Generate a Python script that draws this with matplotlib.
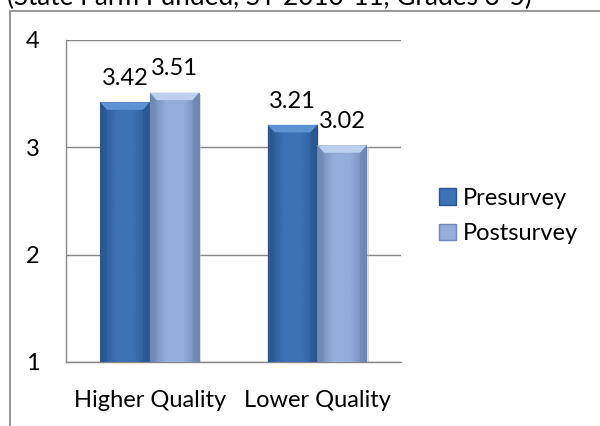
import numpy as np
import matplotlib
matplotlib.use("Agg")
import matplotlib.pyplot as plt
from matplotlib.patches import Polygon, Rectangle
from matplotlib.lines import Line2D
from matplotlib.colors import LinearSegmentedColormap

title = "(State Farm Funded, SY 2010-11, Grades 3-5)"
categories = ["Higher Quality", "Lower Quality"]
series_names = ["Presurvey", "Postsurvey"]
presurvey = [3.42, 3.21]
postsurvey = [3.51, 3.02]

plt.rcParams['font.family'] = ['Lato', 'DejaVu Sans']

# edge / middle / edge shades for the gradient, plus bevel highlight
styles = [
    {"edge": "#2b5690", "mid": "#3d72b6", "top": "#5f92d2"},
    {"edge": "#6d86b2", "mid": "#94addA", "top": "#bccfee"},
]

fig = plt.figure(figsize=(6, 4.26), dpi=100)
ax = fig.add_axes([66 / 600, 64 / 426, 335 / 600, 322 / 426])

x = np.arange(len(categories))
width = 0.296
grid_c = "#868686"
fs = 17

for i, (name, vals) in enumerate(zip(series_names, [presurvey, postsurvey])):
    st = styles[i]
    cmap = LinearSegmentedColormap.from_list(name, [st["edge"], st["mid"], st["mid"], st["edge"]])
    offs = (i - 0.5) * width
    bars = ax.bar(x + offs, [v - 1 for v in vals], width, bottom=1, color=st["mid"],
                  edgecolor="none", zorder=3, label=name)
    for b, v in zip(bars, vals):
        x0, w = b.get_x(), b.get_width()
        grad = np.linspace(0, 1, 64).reshape(1, -1)
        im = ax.imshow(grad, cmap=cmap, aspect="auto", extent=(x0, x0 + w, 1, v), zorder=3.5)
        im.set_clip_path(b)
        # soft shadow on the right
        ax.add_patch(Rectangle((x0 + w, 1), 0.012, v - 1 - 0.02, color="#b8b8b8", alpha=0.5,
                               zorder=2.5, lw=0))
        # bevel: lighter top face, darker side strips
        dx, dy = 0.04, 0.07
        ax.add_patch(Polygon([(x0, v), (x0 + w, v), (x0 + w - dx, v - dy), (x0 + dx, v - dy)],
                             closed=True, color=st["top"], zorder=4, lw=0))
        ax.add_patch(Polygon([(x0, v), (x0 + dx, v - dy), (x0 + dx, 1), (x0, 1)],
                             closed=True, color=st["edge"], alpha=0.45, zorder=4, lw=0))
        ax.add_patch(Polygon([(x0 + w, v), (x0 + w - dx, v - dy), (x0 + w - dx, 1), (x0 + w, 1)],
                             closed=True, color=st["edge"], alpha=0.6, zorder=4, lw=0))
        ax.annotate(f"{v:.2f}", (x0 + w / 2, v), xytext=(0, 17), textcoords="offset points",
                    ha="center", va="center", fontsize=fs, color="black")

ax.set_xlim(-0.5, len(categories) - 0.5)
ax.set_ylim(1, 4)
ax.set_yticks([1, 2, 3, 4])
ax.set_xticks(x)
ax.set_xticklabels(categories)
ax.yaxis.grid(True, color=grid_c, lw=1, zorder=0)
ax.set_axisbelow(True)
for s in ["top", "right"]:
    ax.spines[s].set_visible(False)
for s in ["left", "bottom"]:
    ax.spines[s].set_color(grid_c)
    ax.spines[s].set_linewidth(1)
ax.tick_params(axis="y", length=0, pad=19, labelsize=fs)
ax.tick_params(axis="x", length=0, pad=20, labelsize=fs)

# legend with plain squares
handles = [Rectangle((0, 0), 1, 1, facecolor=st["mid"], edgecolor=st["edge"]) for st in styles]
ax.legend(handles, series_names, loc="center left", bbox_to_anchor=(439 / 600, 1 - 216 / 426),
          bbox_transform=fig.transFigure, frameon=False, fontsize=fs, handlelength=0.7,
          handleheight=0.7, handletextpad=0.3, labelspacing=0.6, borderaxespad=0, borderpad=0)

# chart area frame and clipped title
fig.add_artist(Line2D([10 / 600, 10 / 600, 1.01], [-0.01, 1 - 11 / 426, 1 - 11 / 426],
                      transform=fig.transFigure, color=grid_c, lw=1.2))
fig.text(269 / 600, 1 - 5 / 426, title, ha="center", va="baseline", fontsize=18.8)

fig.savefig("out.png", dpi=100)
